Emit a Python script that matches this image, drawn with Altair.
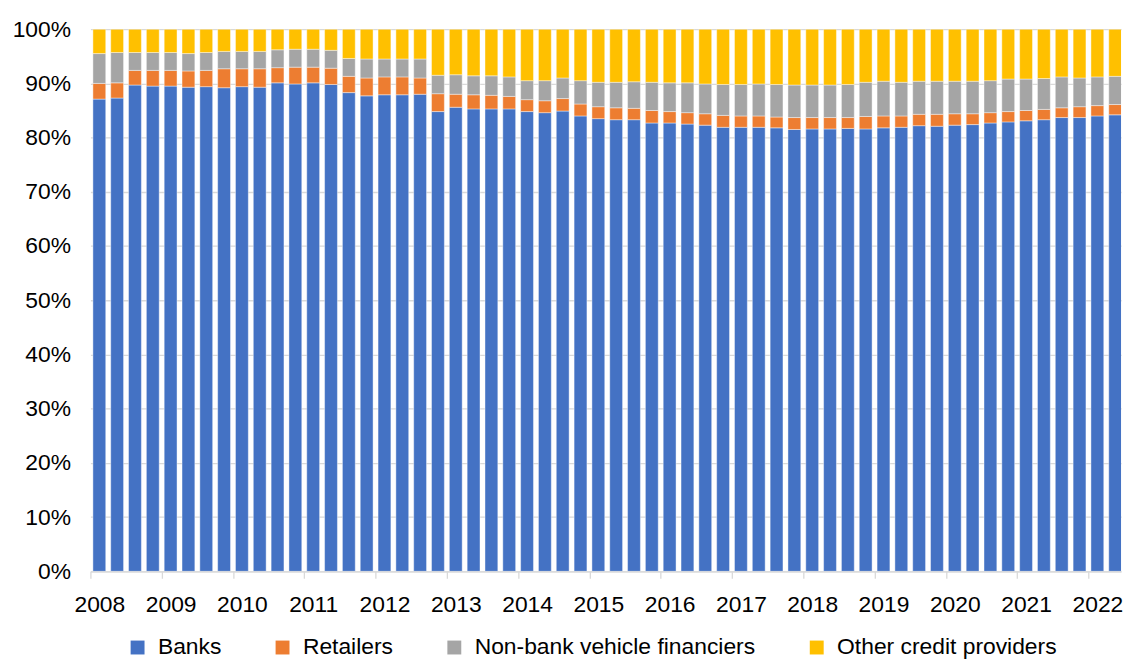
import altair as alt
import pandas as pd

years = list(range(2008, 2023))
quarters = [f"{y}Q{q}" for y in years for q in range(1, 5)][:59]

series_names = ["Banks", "Retailers", "Non-bank vehicle financiers", "Other credit providers"]
colors = ["#4472C4", "#ED7D31", "#A5A5A5", "#FFC000"]

banks = [87.1, 87.3, 89.7, 89.5, 89.5, 89.3, 89.4, 89.2, 89.4, 89.3,
         90.1, 89.9, 90.1, 89.8, 88.3, 87.7, 87.9, 87.9, 88.0, 84.8,
         85.6, 85.3, 85.3, 85.3, 84.8, 84.6, 84.9, 84.0, 83.5, 83.3,
         83.3, 82.7, 82.7, 82.5, 82.3, 81.9, 81.9, 81.9, 81.8, 81.5,
         81.6, 81.6, 81.7, 81.6, 81.8, 81.9, 82.2, 82.1, 82.3, 82.4,
         82.7, 82.9, 83.1, 83.3, 83.7, 83.7, 84.0, 84.2, 84.4]
retailers = [2.9, 2.8, 2.7, 2.9, 2.9, 3.0, 3.0, 3.5, 3.3, 3.4,
             2.8, 3.1, 2.9, 3.0, 3.0, 3.3, 3.3, 3.3, 3.0, 3.3,
             2.4, 2.6, 2.5, 2.3, 2.2, 2.2, 2.3, 2.2, 2.2, 2.2,
             2.1, 2.3, 2.1, 2.1, 2.1, 2.2, 2.1, 2.1, 2.0, 2.2,
             2.1, 2.1, 2.0, 2.3, 2.2, 2.1, 2.1, 2.2, 2.1, 2.0,
             1.9, 1.9, 1.9, 1.9, 1.8, 2.0, 1.9, 1.9, 2.0]
nonbank = [5.5, 5.6, 3.3, 3.3, 3.3, 3.2, 3.3, 3.2, 3.2, 3.2,
           3.3, 3.3, 3.3, 3.3, 3.3, 3.5, 3.3, 3.3, 3.5, 3.4,
           3.6, 3.5, 3.6, 3.6, 3.5, 3.7, 3.8, 4.3, 4.5, 4.7,
           4.9, 5.2, 5.3, 5.5, 5.5, 5.7, 5.8, 5.9, 6.0, 6.0,
           6.0, 6.0, 6.1, 6.3, 6.4, 6.2, 6.1, 6.1, 6.0, 6.0,
           5.9, 6.0, 5.8, 5.7, 5.7, 5.3, 5.3, 5.2, 5.1]
other = [4.5, 4.3, 4.3, 4.3, 4.3, 4.5, 4.3, 4.1, 4.1, 4.1,
         3.8, 3.7, 3.7, 3.9, 5.4, 5.5, 5.5, 5.5, 5.5, 8.5,
         8.4, 8.6, 8.6, 8.8, 9.5, 9.5, 9.0, 9.5, 9.8, 9.8,
         9.7, 9.8, 9.9, 9.9, 10.1, 10.2, 10.2, 10.1, 10.2, 10.3,
         10.3, 10.3, 10.2, 9.8, 9.6, 9.8, 9.6, 9.6, 9.6, 9.6,
         9.5, 9.2, 9.2, 9.1, 8.8, 9.0, 8.8, 8.7, 8.5]

rows = []
for s_i, (name, vals) in enumerate(zip(series_names, [banks, retailers, nonbank, other])):
    for i, (q, v) in enumerate(zip(quarters, vals)):
        rows.append({"idx": i, "quarter": q, "series": name, "ord": s_i, "value": v})
df = pd.DataFrame(rows)

year_ticks = [4 * k - 0.5 for k in range(len(years))]
FONT = "Liberation Sans"

chart = (
    alt.Chart(df)
    .transform_stack(stack="value", groupby=["idx"], as_=["y0", "y1"],
                     sort=[alt.SortField("ord", order="ascending")])
    .transform_calculate(xa="datum.idx - 0.36", xb="datum.idx + 0.36")
    .mark_bar(clip=True, stroke="#ffffff", strokeWidth=0.6, strokeOpacity=0.7)
    .encode(
        x=alt.X("xa:Q",
                scale=alt.Scale(domain=[-0.5, 57.33], nice=False, zero=False),
                axis=alt.Axis(values=year_ticks,
                              labelExpr="'' + (2008 + (datum.value + 0.5) / 4)",
                              labelOffset=9, tickSize=7, tickColor="#D9D9D9",
                              tickWidth=1.3, domainColor="#D9D9D9", domainWidth=1.3,
                              grid=False, labelFontSize=23, labelPadding=15,
                              labelFont=FONT, labelColor="#000000",
                              labelOverlap=False, labelFlush=False, title=None)),
        x2="xb:Q",
        y=alt.Y("y0:Q",
                scale=alt.Scale(domain=[0, 100], nice=False),
                axis=alt.Axis(values=list(range(0, 101, 10)),
                              labelExpr="datum.value + '%'",
                              domain=False, ticks=False, grid=True,
                              gridColor="#D9D9D9", gridWidth=1.3,
                              labelFontSize=23, labelPadding=20, labelFont=FONT,
                              labelColor="#000000", title=None)),
        y2="y1:Q",
        color=alt.Color("series:N",
                        scale=alt.Scale(domain=series_names, range=colors),
                        legend=alt.Legend(title=None, orient="none", legendX=36,
                                          legendY=611, direction="horizontal",
                                          symbolType="square", symbolSize=196,
                                          symbolStrokeWidth=0, labelFontSize=23,
                                          labelFont=FONT, labelColor="#000000",
                                          columnPadding=50, labelOffset=9,
                                          labelLimit=0)),
        order=alt.Order("ord:Q"),
        tooltip=["quarter:N", "series:N", "value:Q"],
    )
    .properties(width=1038, height=546,
                autosize=alt.AutoSizeParams(type="none"),
                padding={"left": 83, "top": 19, "right": 8, "bottom": 89})
    .configure_view(stroke=None)
)

chart.save("out.html", embed_options={"renderer": "svg", "actions": False})
